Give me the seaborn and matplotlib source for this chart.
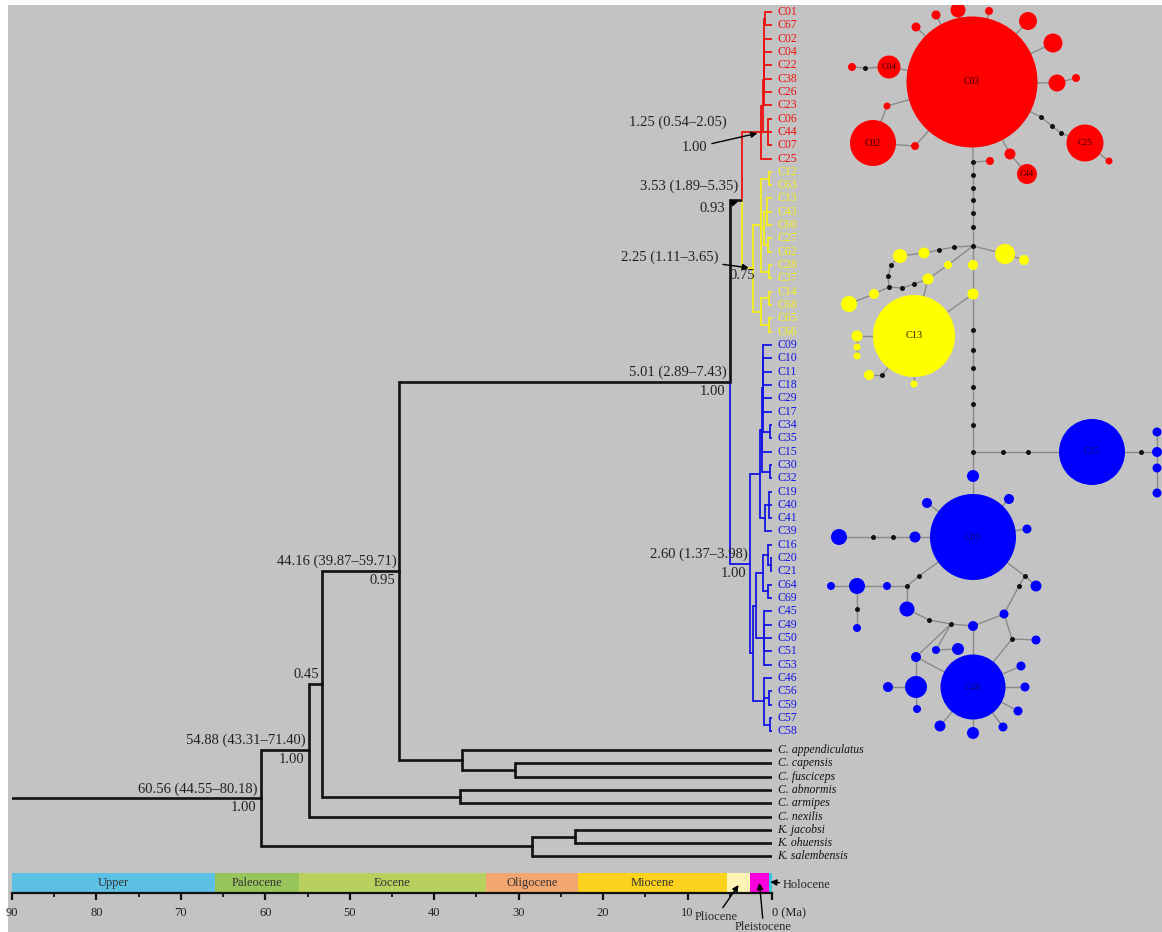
import numpy as np
import matplotlib.pyplot as plt
import seaborn as sns

W, H = 1162, 932

# ---- dated tree: tips are names, last item of each tuple is the node age (Ma)
red_a = (("C01", "C67", 0.8), "C02", "C04", "C22", "C38", "C26", 0.95)
red_b = (red_a, "C23", 1.0)
red_c = (red_b, ("C06", "C44", "C07", 0.45), 1.05)
RED_CLADE = (red_c, "C25", 1.25)

yel_up = (("C12", "C63", 0.4), (("C13", "C43", "C60", 0.6), ("C27", "C62", 0.5), 0.95),
          ("C28", "C37", 0.4), 1.3)
yel_low = (("C14", "C68", 0.4), ("C65", "C66", 0.4), 1.3)
YELLOW_CLADE = (yel_up, yel_low, 2.25)

blue_a = (("C09", "C10", "C11", "C18", "C29", "C17", ("C34", "C35", 0.25), 1.1),
          "C15", ("C30", "C32", 0.25), 1.2)
blue_b = (("C19", "C40", "C41", 0.3), "C39", 0.8)
blue_c = (("C16", ("C20", "C21", 0.15), 0.5), ("C64", "C69", 0.5), 1.1)
blue_d = ("C45", "C49", "C50", "C51", "C53", 1.0)
blue_e = ("C46", ("C56", "C59", 0.3), ("C57", "C58", 0.2), 1.0)
BLUE_CLADE = ((blue_a, blue_b, 1.4), ((blue_c, blue_d, 1.9), blue_e, 2.3), 2.60)

ingroup = ((RED_CLADE, YELLOW_CLADE, 3.53), BLUE_CLADE, 5.01)
appendic = ("C. appendiculatus", ("C. capensis", "C. fusciceps", 30.4), 36.7)
kclade = (("K. jacobsi", "K. ohuensis", 23.3), "K. salembensis", 28.4)
TREE = ((((ingroup, appendic, 44.16), ("C. abnormis", "C. armipes", 37.0), 53.3),
         "C. nexilis", 54.88), kclade, 60.56)
ROOT_STEM_AGE = 90

NODE_HPD = {60.56: "60.56 (44.55–80.18)", 54.88: "54.88 (43.31–71.40)",
            44.16: "44.16 (39.87–59.71)", 5.01: "5.01 (2.89–7.43)",
            2.60: "2.60 (1.37–3.98)", 3.53: "3.53 (1.89–5.35)",
            1.25: "1.25 (0.54–2.05)", 2.25: "2.25 (1.11–3.65)"}
NODE_PP = {60.56: "1.00", 54.88: "1.00", 53.3: "0.45", 44.16: "0.95", 5.01: "1.00",
           2.60: "1.00", 3.53: "0.93", 1.25: "1.00", 2.25: "0.75"}

# ---- geological time scale
EPOCH_NAMES = ["Upper", "Paleocene", "Eocene", "Oligocene", "Miocene",
               "Pliocene", "Pleistocene", "Holocene"]
EPOCH_START = [90, 66, 56, 33.9, 23, 5.33, 2.58, 0.4]
EPOCH_END = [66, 56, 33.9, 23, 5.33, 2.58, 0.4, 0]
EPOCH_COLORS = ["#5cc0e4", "#98c45c", "#b8d15e", "#f4a671", "#fdd21c",
                "#fdf4b4", "#fb00dc", "#3cc8e4"]

# ---- haplotype network: (x, y, diameter) per haplotype, layout units
RED_HAPS = {
    "C03": (972, 82, 131), "r1": (936, 15, 9), "r2": (958, 10, 15), "r3": (989, 11, 8),
    "r4": (1028, 21, 18), "r5": (1053, 43, 19), "r6": (1057, 83, 17), "r7": (1076, 78, 8),
    "r8": (916, 27, 9), "C04": (889, 67, 23), "r9": (852, 67, 8), "r10": (887, 106, 7),
    "C02": (873, 143, 46), "r11": (915, 146, 8), "C25": (1085, 143, 37), "r12": (1109, 161, 7),
    "r13": (1010, 154, 11), "C44": (1027, 174, 20), "r14": (990, 161, 8),
}
YELLOW_HAPS = {
    "y1": (924, 253, 11), "y2": (900, 256, 14), "y3": (928, 279, 11), "y4": (948, 265, 8),
    "y5": (973, 265, 10), "y6": (973, 294, 11), "y7": (1005, 254, 20), "y8": (1024, 260, 10),
    "C13": (914, 336, 82), "y9": (849, 304, 16), "y10": (874, 294, 10), "y11": (857, 336, 11),
    "y12": (857, 347, 7), "y13": (857, 356, 7), "y14": (869, 375, 10), "y15": (914, 384, 7),
}
BLUE_HAPS = {
    "C15": (1092, 452, 66), "b1": (1157, 432, 9), "b2": (1157, 452, 10), "b3": (1157, 468, 9),
    "b4": (1157, 493, 9), "b5": (973, 476, 12), "C09": (973, 537, 86), "b6": (927, 503, 10),
    "b7": (1009, 499, 10), "b8": (1027, 529, 9), "b9": (839, 537, 16), "b10": (915, 537, 11),
    "b11": (887, 586, 8), "b12": (857, 586, 16), "b13": (831, 586, 8), "b14": (857, 628, 8),
    "b15": (907, 609, 15), "b16": (973, 626, 10), "b17": (1004, 614, 9), "b18": (1036, 586, 11),
    "b19": (1036, 640, 9), "b20": (936, 650, 8), "b21": (958, 649, 12), "b22": (916, 657, 10),
    "C46": (973, 687, 65), "b23": (916, 687, 22), "b24": (888, 687, 10), "b25": (917, 709, 8),
    "b26": (940, 726, 11), "b27": (973, 733, 12), "b28": (1003, 727, 9), "b29": (1018, 711, 9),
    "b30": (1025, 687, 9), "b31": (1021, 666, 9),
}
MEDIAN_VECTORS = {
    "m1": (865, 68), "m2": (1041, 117), "m3": (1052, 126), "m4": (1061, 133),
    "m5": (973, 162), "m6": (973, 175), "m7": (973, 188), "m8": (973, 200), "m9": (973, 213),
    "m10": (973, 227), "j1": (973, 246), "m11": (954, 247), "m12": (939, 250),
    "m13": (891, 265), "m14": (888, 276), "m15": (889, 287), "m16": (902, 288),
    "m17": (914, 284), "m18": (882, 375), "m19": (973, 330), "m20": (973, 350),
    "m21": (973, 368), "m22": (973, 387), "m23": (973, 404), "m24": (973, 425),
    "j2": (973, 452), "m25": (1003, 452), "m26": (1028, 452), "m27": (1141, 452),
    "m28": (873, 537), "m29": (893, 537), "m30": (919, 576), "m31": (907, 586),
    "m32": (857, 609), "m33": (929, 620), "m34": (951, 624), "m35": (1019, 586),
    "m36": (1025, 576), "m37": (1012, 639),
}
NET_LINKS = [
    "C03 r1", "C03 r2", "C03 r3", "C03 r4", "C03 r5", "C03 r6 r7", "C03 r8",
    "C03 C04 m1 r9", "C03 r10 C02 r11 C03", "C03 m2 m3 m4 C25 r12", "C03 r13 C44",
    "C03 m5 m6 m7 m8 m9 m10 j1", "m5 r14",
    "j1 m11 m12 y1 y2 m13 m14 m15 m16 m17 y3 C13", "j1 y4 y3", "j1 y5 y6 C13", "j1 y7 y8",
    "y9 y10 m15", "C13 y11 y12 y13", "C13 m18 y14", "C13 y15",
    "y6 m19 m20 m21 m22 m23 m24 j2",
    "j2 m25 m26 C15 m27 b2", "b1 b2 b3 b4", "j2 b5 C09", "C09 b6", "C09 b7", "C09 b8",
    "C09 b10 m29 m28 b9", "C09 m30 m31 b11 b12 b13", "b12 m32 b14",
    "m31 b15 m33 m34 b16 b17 m35 m36 C09", "m36 b18", "b17 m37 b19", "m37 C46", "b16 C46",
    "m34 b22 C46", "m34 b20 b21", "b22 b23 b24", "b23 b25",
    "C46 b26", "C46 b27", "C46 b28", "C46 b29", "C46 b30", "C46 b31",
]

# ---------------------------------------------------------------------------
sns.set_theme(style="ticks")
plt.rcParams["font.family"] = ["Liberation Serif", "DejaVu Serif"]

BG = "#c3c3c3"
RED, YEL, BLU, BLK = "#ee1010", "#f4f01c", "#1414e6", "#111111"
TIP_PX = 13.32
OUT_GAP = 0.4

fig = plt.figure(figsize=(W / 100, H / 100), dpi=100)
fig.patch.set_facecolor("white")
fig.add_artist(plt.Rectangle((8 / W, 0), 1 - 8 / W, 1 - 5 / H, transform=fig.transFigure,
                             facecolor=BG, edgecolor="none", zorder=-1))


def box(x0, y0, x1, y1):
    return [x0 / W, 1 - y1 / H, (x1 - x0) / W, (y1 - y0) / H]


# ---- tree
ax = fig.add_axes(box(12, 0, 772, 866))
ax.set_xlim(90, 0)
ax.set_ylim((866 - 12) / TIP_PX, -12 / TIP_PX)
ax.set_axis_off()

clade_col = {id(RED_CLADE): RED, id(YELLOW_CLADE): YEL, id(BLUE_CLADE): BLU}
tips, nodes = [], {}


def draw(node, col):
    col = clade_col.get(id(node), col)
    if isinstance(node, str):
        hap = node[1].isdigit()
        y = len(tips) + (0 if hap else OUT_GAP)
        tips.append(node)
        ax.annotate(node, (0, y), xytext=(4, 0), textcoords="offset points",
                    va="center", ha="left", fontsize=8.5,
                    color=col if hap else BLK, style="normal" if hap else "italic")
        return y, 0.0, col
    *kids, age = node
    res = [draw(k, col) for k in kids]
    ys = [r[0] for r in res]
    y = (min(ys) + max(ys)) / 2
    for cy, cage, ccol in res:
        lw = 1.9 if ccol == BLK else 1.3
        ax.plot([age, cage], [cy, cy], color=ccol, lw=lw, solid_capstyle="butt")
        ax.plot([age, age], [y, cy], color=ccol, lw=lw, solid_capstyle="projecting")
    nodes[age] = y
    return y, age, col


root_y, root_age, _ = draw(TREE, BLK)
ax.plot([ROOT_STEM_AGE, root_age], [root_y, root_y], color=BLK, lw=1.9)

lab = dict(textcoords="offset points", fontsize=10.5, color="#222222")
for age in (60.56, 54.88, 44.16, 5.01, 2.60):
    ax.annotate(NODE_HPD[age], (age, nodes[age]), xytext=(-2, 2), ha="right", va="bottom", **lab)
    ax.annotate(NODE_PP[age], (age, nodes[age]), xytext=(-3, -2), ha="right", va="top", **lab)
ax.annotate(NODE_PP[53.3], (53.3, nodes[53.3]), xytext=(-2, 2), ha="right", va="bottom", **lab)

arrow = dict(arrowstyle="-|>", color="black", lw=1, mutation_scale=9, shrinkA=1, shrinkB=3)
ax.annotate(NODE_HPD[1.25], (1.25, nodes[1.25]), xytext=(-25, 7), ha="right", va="center", **lab)
ax.annotate(NODE_PP[1.25], (1.25, nodes[1.25]), xytext=(-39, -11), ha="right", va="center",
            arrowprops=arrow, **lab)
ax.annotate(NODE_HPD[3.53], (3.53, nodes[3.53]), xytext=(-3, 10), ha="right", va="center", **lab)
ax.annotate(NODE_PP[3.53], (3.53, nodes[3.53]), xytext=(-12, -6), ha="right", va="center",
            arrowprops=arrow, **lab)
ax.annotate(NODE_HPD[2.25], (2.25, nodes[2.25]), xytext=(-25, 8), ha="right", va="center",
            arrowprops=arrow, **lab)
ax.annotate(NODE_PP[2.25], (2.25, nodes[2.25]), xytext=(-8, -5), ha="center", va="center", **lab)

# ---- time scale
ax_t = fig.add_axes(box(12, 873, 772, 893))
ax_t.set_facecolor("none")
ax_t.set_xlim(90, 0)
ax_t.set_ylim(0, 1)
for name, start, end, c in zip(EPOCH_NAMES, EPOCH_START, EPOCH_END, EPOCH_COLORS):
    ax_t.barh(0.5, start - end, left=end, height=1, color=c, linewidth=0)
for name, start, end in zip(EPOCH_NAMES[:5], EPOCH_START[:5], EPOCH_END[:5]):
    ax_t.text((start + end) / 2, 0.5, name, ha="center", va="center", fontsize=9, color="#333333")
sns.despine(ax=ax_t, left=True, top=True, right=True)
ax_t.spines["bottom"].set_linewidth(1.6)
ax_t.spines["bottom"].set_color(BLK)
ax_t.set_yticks([])
ticks = np.arange(90, -1, -10)
ax_t.set_xticks(ticks)
ax_t.set_xticklabels([str(t) for t in ticks[:-1]] + ["0 (Ma)"])
ax_t.get_xticklabels()[-1].set_ha("left")
ax_t.set_xticks(np.arange(85, 0, -10), minor=True)
ax_t.tick_params(axis="x", which="major", direction="out", length=5, width=1.6,
                 labelsize=9, pad=5, colors=BLK, labelcolor="#222222")
ax_t.tick_params(axis="x", which="minor", direction="out", length=3, width=1.3, colors=BLK)

small_arrow = dict(arrowstyle="-|>", color="black", lw=1, mutation_scale=9, shrinkA=0, shrinkB=0)
ax_t.annotate("Pliocene", ((5.33 + 2.58) / 2, 0.4), xytext=(-16, -23), textcoords="offset points",
              ha="center", va="center", fontsize=9, arrowprops=small_arrow)
ax_t.annotate("Pleistocene", ((2.58 + 0.4) / 2, 0.5), xytext=(3, -32), textcoords="offset points",
              ha="center", va="center", fontsize=9, arrowprops=small_arrow)
ax_t.annotate("Holocene", (0.2, 0.55), xytext=(9, -2), textcoords="offset points",
              ha="left", va="center", fontsize=9, arrowprops=small_arrow)

# ---- haplotype network
ax_n = fig.add_axes(box(820, 5, 1162, 745))
ax_n.set_xlim(820, 1162)
ax_n.set_ylim(745, 5)
ax_n.set_axis_off()

pos = {}
for d in (RED_HAPS, YELLOW_HAPS, BLUE_HAPS):
    pos.update({k: v[:2] for k, v in d.items()})
pos.update(MEDIAN_VECTORS)

for chain in NET_LINKS:
    ids = chain.split()
    for a, b in zip(ids[:-1], ids[1:]):
        ax_n.plot([pos[a][0], pos[b][0]], [pos[a][1], pos[b][1]], color="#8a8a8a", lw=1, zorder=1)

for haps, c in ((RED_HAPS, "#ff0000"), (YELLOW_HAPS, "#ffff00"), (BLUE_HAPS, "#0000ff")):
    v = np.array(list(haps.values()), dtype=float)
    sns.scatterplot(x=v[:, 0], y=v[:, 1], s=(v[:, 2] * 0.72) ** 2, color=c, linewidth=0,
                    legend=False, ax=ax_n, zorder=2)
mv = np.array(list(MEDIAN_VECTORS.values()), dtype=float)
sns.scatterplot(x=mv[:, 0], y=mv[:, 1], s=(5 * 0.72) ** 2, color="#111111", linewidth=0,
                legend=False, ax=ax_n, zorder=3)

for name, d, fs, tc in (("C03", RED_HAPS, 7, "#330000"), ("C04", RED_HAPS, 6.5, "#330000"),
                        ("C02", RED_HAPS, 7, "#330000"), ("C25", RED_HAPS, 6.5, "#330000"),
                        ("C44", RED_HAPS, 6, "#330000"), ("C13", YELLOW_HAPS, 7.5, "#222200"),
                        ("C15", BLUE_HAPS, 7, "#0a0a70"), ("C09", BLUE_HAPS, 7, "#0a0a70"),
                        ("C46", BLUE_HAPS, 7, "#0a0a70")):
    ax_n.text(d[name][0], d[name][1], name, ha="center", va="center", fontsize=fs,
              color=tc, zorder=4)

fig.savefig("out.png", dpi=100, facecolor=fig.get_facecolor())
